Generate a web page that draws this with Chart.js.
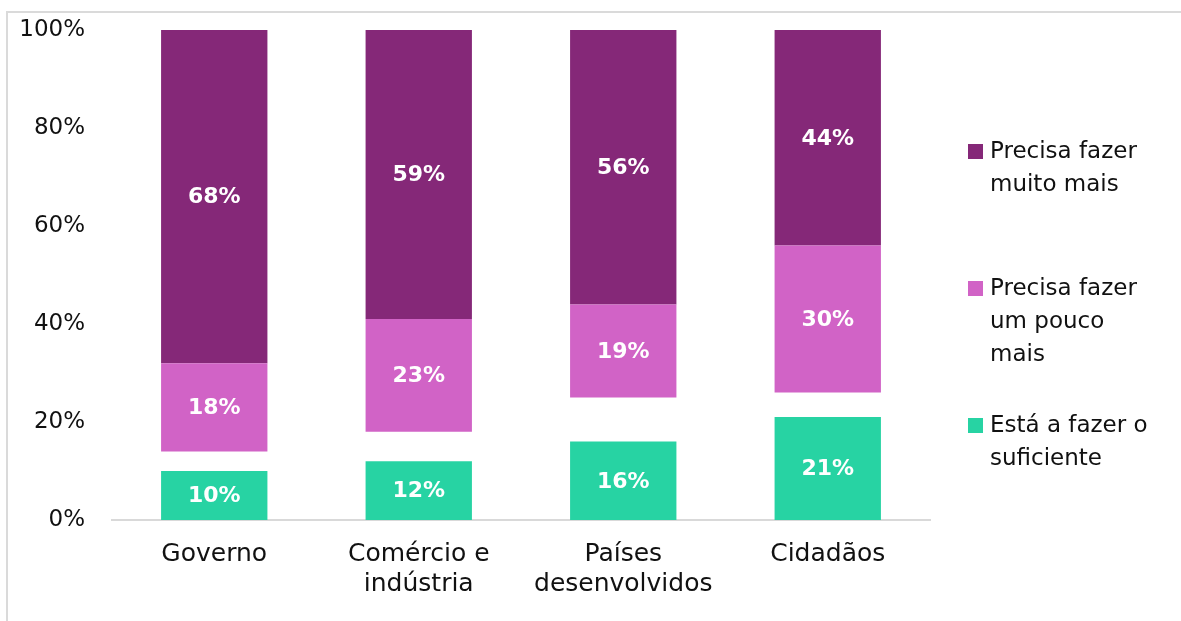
<!DOCTYPE html>
<html lang="pt">
<head>
<meta charset="UTF-8">
<title>Chart</title>
<script src="https://cdn.jsdelivr.net/npm/chart.js"></script>
<style>
  body { margin: 0; background: #fff; font-family: 'DejaVu Sans', sans-serif; }
  #wrap { position: relative; width: 1181px; height: 621px; overflow: hidden; }
  #frame { position: absolute; left: 6px; top: 11px; width: 1300px; height: 700px;
           border-left: 2px solid #dadada; border-top: 2px solid #dadada; }
  canvas { position: absolute; left: 0; top: 0; }
  .item { position: absolute; left: 968px; padding-left: 22px; font-size: 23px;
          line-height: 33px; color: #111; white-space: nowrap; }
  .item .sw { position: absolute; left: 0; top: 10px; width: 15px; height: 15px; }
</style>
</head>
<body>
<div id="wrap">
  <div id="frame"></div>
  <canvas id="chart" width="1181" height="621"></canvas>
  <div id="legend"></div>
</div>
<script>
  // data
  const categories = [['Governo'], ['Comércio e', 'indústria'], ['Países', 'desenvolvidos'], ['Cidadãos']];
  const suficiente = [10, 12, 16, 21];
  const semResposta = [4, 6, 9, 5];   // blank gap between green and pink
  const poucoMais = [18, 23, 19, 30];
  const muitoMais = [68, 59, 56, 44];
  const yTicks = [0, 20, 40, 60, 80, 100];

  const seriesNames = [['Precisa fazer', 'muito mais'], ['Precisa fazer', 'um pouco', 'mais'], ['Está a fazer o', 'suficiente']];
  const colors = ['#852878', '#d163c6', '#27d3a3'];

  const barLabels = {
    id: 'barLabels',
    afterDatasetsDraw(chart) {
      const ctx = chart.ctx;
      ctx.save();
      ctx.font = 'bold 22px "DejaVu Sans"';
      ctx.fillStyle = '#fff';
      ctx.textAlign = 'center';
      ctx.textBaseline = 'middle';
      chart.data.datasets.forEach((ds, i) => {
        if (ds.noLabel) return;
        chart.getDatasetMeta(i).data.forEach((bar, j) => {
          const p = bar.getProps(['x', 'y', 'base'], true);
          ctx.fillText(ds.data[j] + '%', p.x, (p.y + p.base) / 2 + 1);
        });
      });
      ctx.restore();
    }
  };

  new Chart(document.getElementById('chart'), {
    type: 'bar',
    data: {
      labels: categories,
      datasets: [
        { label: seriesNames[2].join(' '), data: suficiente, backgroundColor: colors[2] },
        { label: 'gap', data: semResposta, backgroundColor: 'rgba(0,0,0,0)', noLabel: true },
        { label: seriesNames[1].join(' '), data: poucoMais, backgroundColor: colors[1] },
        { label: seriesNames[0].join(' '), data: muitoMais, backgroundColor: colors[0] }
      ]
    },
    options: {
      responsive: false,
      animation: false,
      layout: { padding: { left: 0, right: 251, top: 30, bottom: 0 } },
      datasets: { bar: { barPercentage: 0.52, categoryPercentage: 1, borderWidth: 0 } },
      plugins: { legend: { display: false }, tooltip: { enabled: false } },
      scales: {
        x: {
          stacked: true,
          grid: { display: false, drawTicks: false },
          border: { display: true, color: '#d9d9d9', width: 2 },
          ticks: { color: '#111', font: { family: 'DejaVu Sans', size: 25, lineHeight: 1.2 }, padding: 19, maxRotation: 0 },
          afterFit(scale) { scale.height = 101; scale.paddingLeft = 0; scale.paddingRight = 0; }
        },
        y: {
          stacked: true,
          min: 0,
          max: 100,
          grid: { display: false, drawTicks: false },
          border: { display: false },
          afterBuildTicks(scale) { scale.ticks = yTicks.map(v => ({ value: v })); },
          ticks: { color: '#111', font: { family: 'DejaVu Sans', size: 23 }, padding: 27, callback: v => v + '%' },
          afterFit(scale) { scale.width = 112; scale.paddingTop = 0; scale.paddingBottom = 0; }
        }
      }
    },
    plugins: [barLabels]
  });

  // legend
  const legendTops = [134, 271, 408];
  const legend = document.getElementById('legend');
  seriesNames.forEach((lines, i) => {
    const div = document.createElement('div');
    div.className = 'item';
    div.style.top = legendTops[i] + 'px';
    const sw = document.createElement('span');
    sw.className = 'sw';
    sw.style.background = colors[i];
    div.appendChild(sw);
    lines.forEach((t, k) => {
      if (k) div.appendChild(document.createElement('br'));
      div.appendChild(document.createTextNode(t));
    });
    legend.appendChild(div);
  });
</script>
</body>
</html>
